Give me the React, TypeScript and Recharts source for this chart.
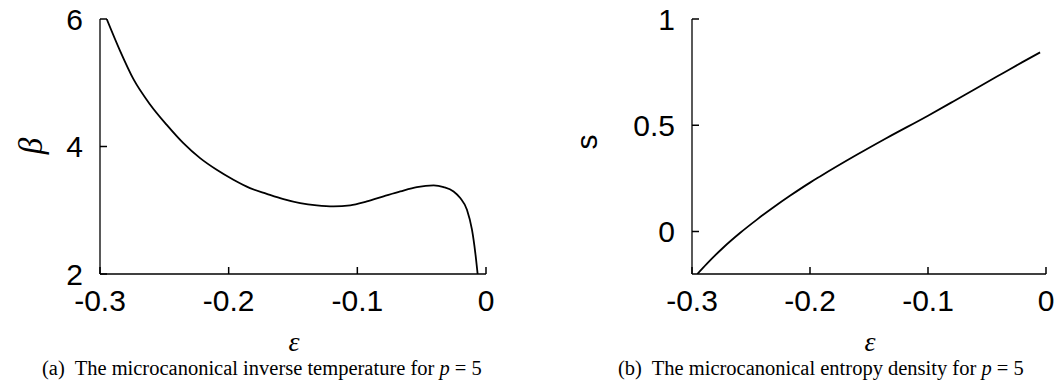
import { LineChart, Line, XAxis, YAxis } from "recharts";

// (a) inverse temperature beta(eps)
const betaEps = [-0.2948, -0.2844, -0.2741, -0.2611, -0.2481, -0.2352, -0.2222, -0.2093, -0.1963, -0.1834, -0.1704, -0.1574, -0.1444, -0.1315, -0.1185, -0.1055, -0.0926, -0.0796, -0.0666, -0.0537, -0.0407, -0.0329, -0.0252, -0.02, -0.0148, -0.0109, -0.0083, -0.0065];
const betaVals = [6.0, 5.5, 5.06, 4.66, 4.339, 4.052, 3.817, 3.634, 3.478, 3.347, 3.258, 3.175, 3.112, 3.076, 3.06, 3.076, 3.138, 3.217, 3.295, 3.363, 3.389, 3.363, 3.295, 3.191, 3.008, 2.695, 2.329, 2.0];

// (b) entropy density s(eps)
const sEps = [-0.2955, -0.2873, -0.2732, -0.2591, -0.245, -0.2309, -0.2167, -0.2, -0.1915, -0.16, -0.135, -0.1, -0.0786, -0.06, -0.0362, -0.02, -0.005];
const sVals = [-0.2, -0.151, -0.074, -0.006, 0.056, 0.114, 0.169, 0.23, 0.259, 0.362, 0.44, 0.545, 0.612, 0.671, 0.746, 0.797, 0.843];

const xTicks = [-0.3, -0.2, -0.1, 0];
const betaTicks = [2, 4, 6];
const sTicks = [0, 0.5, 1];

const betaData = betaEps.map((e, i) => ({ eps: e, v: betaVals[i] }));
const sData = sEps.map((e, i) => ({ eps: e, v: sVals[i] }));

const sans = "Liberation Sans, Arial, sans-serif";
const serif = "Liberation Serif, Times New Roman, serif";
const TL = 7; // inward tick length
const tickStroke = { stroke: "#000", strokeWidth: 1.5 };

// gnuplot style: tick marks point into the plot, labels outside
const BottomTick = ({ x, y, payload }: any) => (
    <g>
        <line x1={x} y1={y} x2={x} y2={y - TL} {...tickStroke} />
        <text x={x} y={y + 26} textAnchor="middle" dominantBaseline="central" fontSize={30} fontFamily={sans} fill="#000">
            {payload.value}
        </text>
    </g>
);
const LeftTick = ({ x, y, payload }: any) => (
    <g>
        <line x1={x} y1={y} x2={x + TL} y2={y} {...tickStroke} />
        <text x={x - 17} y={y} textAnchor="end" dominantBaseline="central" fontSize={30} fontFamily={sans} fill="#000">
            {payload.value}
        </text>
    </g>
);
const TopTick = ({ x, y }: any) => <line x1={x} y1={y} x2={x} y2={y + TL} {...tickStroke} />;
const RightTick = ({ x, y }: any) => <line x1={x} y1={y} x2={x - TL} y2={y} {...tickStroke} />;

const black = { stroke: "#000", strokeWidth: 1.3 };

function Panel({ data, yDomain, yTicks, yWidth, width, right }: any) {
    return (
        <LineChart width={width} height={320} data={data} margin={{ top: 19, right: right, bottom: 0, left: 0 }}>
            <XAxis dataKey="eps" type="number" domain={[-0.3, 0]} ticks={xTicks} interval={0}
                allowDataOverflow height={46} tickSize={0} tickMargin={0} tickLine={false}
                tick={<BottomTick />} axisLine={black} />
            <XAxis xAxisId="top" orientation="top" dataKey="eps" type="number" domain={[-0.3, 0]} ticks={xTicks}
                interval={0} allowDataOverflow height={0} tickSize={0} tickMargin={0} tickLine={false}
                tick={<TopTick />} axisLine={black} />
            <YAxis type="number" domain={yDomain} ticks={yTicks} interval={0} allowDataOverflow width={yWidth}
                tickSize={0} tickMargin={0} tickLine={false} tick={<LeftTick />} axisLine={black} />
            <YAxis yAxisId="right" orientation="right" type="number" domain={yDomain} ticks={yTicks} interval={0}
                allowDataOverflow width={0} tickSize={0} tickMargin={0} tickLine={false} tick={<RightTick />} axisLine={black} />
            <Line dataKey="v" type="monotone" stroke="#000" strokeWidth={1.8} dot={false} isAnimationActive={false} />
        </LineChart>
    );
}

export default function App() {
    return (
        <div style={{ position: "absolute", left: 0, top: 0, width: 1064, height: 385, background: "#fff" }}>
            <div style={{ position: "absolute", left: 0, top: 0 }}>
                <Panel data={betaData} yDomain={[2, 6]} yTicks={betaTicks} yWidth={100} width={532} right={46} />
            </div>
            <div style={{ position: "absolute", left: 560, top: 0 }}>
                <Panel data={sData} yDomain={[-0.2, 1]} yTicks={sTicks} yWidth={132} width={504} right={18} />
            </div>
            <svg width={1064} height={385} style={{ position: "absolute", left: 0, top: 0, pointerEvents: "none" }}>
                <text x={31} y={146} transform="rotate(-90 31 146)" textAnchor="middle" dominantBaseline="central"
                    fontFamily={serif} fontStyle="italic" fontSize={33}>β</text>
                <text x={586} y={142} transform="rotate(-90 586 142)" textAnchor="middle" dominantBaseline="central"
                    fontFamily={sans} fontSize={30}>s</text>
                <text x={294} y={341} textAnchor="middle" dominantBaseline="central"
                    fontFamily={serif} fontStyle="italic" fontSize={28}>ε</text>
                <text x={870} y={341} textAnchor="middle" dominantBaseline="central"
                    fontFamily={serif} fontStyle="italic" fontSize={28}>ε</text>
                <text x={42} y={375} fontFamily={serif} fontSize={20.5} xmlSpace="preserve">
                    (a)  The microcanonical inverse temperature for <tspan fontStyle="italic">p</tspan> = 5
                </text>
                <text x={618} y={375} fontFamily={serif} fontSize={20.5} xmlSpace="preserve">
                    (b)  The microcanonical entropy density for <tspan fontStyle="italic">p</tspan> = 5
                </text>
            </svg>
        </div>
    );
}
